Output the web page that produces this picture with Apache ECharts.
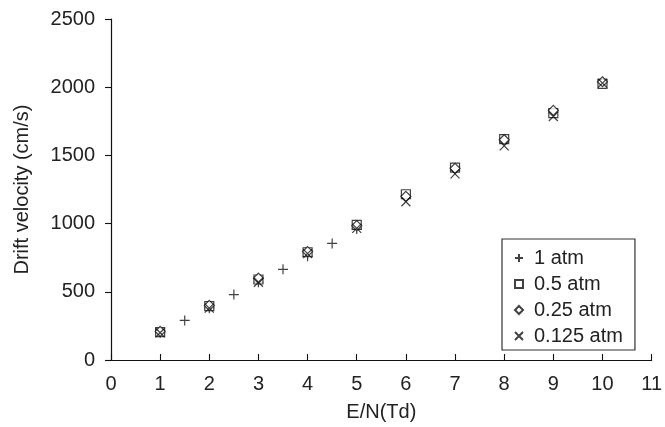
<!DOCTYPE html>
<html><head><meta charset="utf-8">
<script src="https://cdn.jsdelivr.net/npm/echarts@6/dist/echarts.min.js"></script>
<style>html,body{margin:0;padding:0;background:#fff}#c{width:665px;height:427px}</style>
</head><body><div id="c"></div>
<script>
const xAtm1 = [1, 1.5, 2, 2.5, 3, 3.5, 4, 4.5, 5];
const yAtm1 = [200, 290, 380, 480, 570, 665, 760, 855, 960];
const xOthers = [1, 2, 3, 4, 5, 6, 7, 8, 9, 10];
const yAtm05 = [205, 395, 590, 790, 990, 1215, 1410, 1620, 1810, 2025];
const yAtm025 = [210, 400, 600, 795, 985, 1200, 1405, 1615, 1830, 2040];
const yAtm0125 = [200, 380, 570, 780, 965, 1160, 1365, 1570, 1785, 2030];
const seriesNames = ['1 atm', '0.5 atm', '0.25 atm', '0.125 atm'];

const pair = (xs, ys) => xs.map((x, i) => [x, ys[i]]);
const FONT = 'Liberation Sans, Arial, sans-serif';
const TXT = '#222';
const plus = 'path://M0,5L10,5M5,0L5,10';
const cross = 'path://M0,0L10,10M10,0L0,10';
const mk = (name, data, symbol, size) => ({
  name, type: 'scatter', data, symbol, symbolSize: size,
  itemStyle: { color: symbol.startsWith('path') ? 'rgba(0,0,0,0)' : '#fff', borderColor: '#111', borderWidth: 1.2 },
  emphasis: { disabled: true }, z: 3
});
const chart = echarts.init(document.getElementById('c'));
chart.setOption({
  animation: false,
  textStyle: { fontFamily: FONT },
  grid: { left: 111, top: 19, width: 541, height: 342 },
  xAxis: {
    type: 'value', min: 0, max: 11, interval: 1,
    name: 'E/N(Td)', nameLocation: 'middle', nameGap: 42,
    nameTextStyle: { fontSize: 20, color: TXT, fontFamily: FONT },
    axisLine: { onZero: false, lineStyle: { color: '#111', width: 1.2 } },
    axisTick: { inside: true, length: 6, lineStyle: { color: '#111', width: 1.1 } },
    axisLabel: { fontSize: 20, color: TXT, margin: 14, fontFamily: FONT, formatter: v => String(v) },
    splitLine: { show: false }
  },
  yAxis: {
    type: 'value', min: 0, max: 2500, interval: 500,
    name: 'Drift velocity (cm/s)', nameLocation: 'middle', nameGap: 79,
    nameTextStyle: { fontSize: 20, color: TXT, fontFamily: FONT },
    axisLine: { show: true, lineStyle: { color: '#111', width: 1.2 } },
    axisTick: { show: true, inside: false, length: 6, lineStyle: { color: '#111', width: 1.1 } },
    axisLabel: { fontSize: 20, color: TXT, margin: 16, fontFamily: FONT, formatter: v => String(v) },
    splitLine: { show: false }
  },
  legend: {
    orient: 'vertical', left: 502, top: 239,
    padding: [9, 12, 4, 12], itemGap: 6, itemWidth: 8, itemHeight: 8,
    borderColor: '#333', borderWidth: 1.2, backgroundColor: '#fff',
    textStyle: { fontSize: 20, lineHeight: 20, color: TXT, fontFamily: FONT, padding: [0, 0, 0, 6] },
    data: seriesNames.map(n => ({ name: n }))
  },
  series: [
    mk(seriesNames[0], pair(xAtm1, yAtm1), plus, 10),
    mk(seriesNames[1], pair(xOthers, yAtm05), 'rect', 9),
    mk(seriesNames[2], pair(xOthers, yAtm025), 'diamond', 10),
    mk(seriesNames[3], pair(xOthers, yAtm0125), cross, 9)
  ]
});
</script></body></html>
